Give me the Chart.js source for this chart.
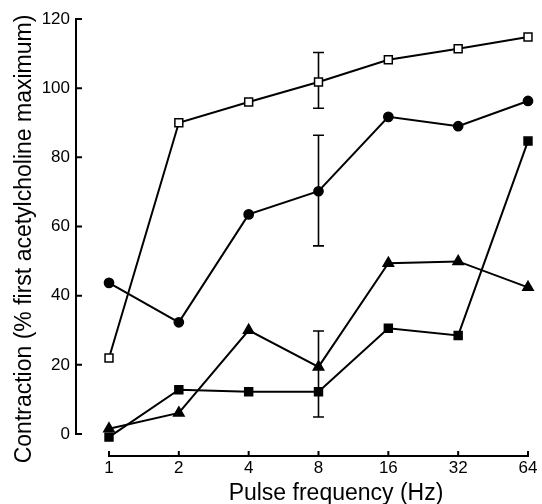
<!DOCTYPE html>
<html>
<head>
<meta charset="utf-8">
<script src="https://cdn.jsdelivr.net/npm/chart.js@4/dist/chart.umd.min.js"></script>
<style>
  html, body { margin: 0; padding: 0; background: #ffffff; }
  #wrap { width: 542px; height: 504px; }
</style>
</head>
<body>
<div id="wrap"><canvas id="c" width="542" height="504"></canvas></div>
<script>
// ---- data ----
const frequencies = ['1', '2', '4', '8', '16', '32', '64'];
const yTickValues = [0, 20, 40, 60, 80, 100, 120];

const openSquareValues   = [22.0, 90.0, 96.0, 101.8, 108.2, 111.4, 114.8];
const circleValues       = [43.7, 32.3, 63.5, 70.2, 91.7, 89.0, 96.3];
const triangleValues     = [1.5, 6.1, 30.0, 19.4, 49.4, 49.9, 42.4];
const filledSquareValues = [-0.9, 12.8, 12.2, 12.2, 30.6, 28.5, 84.7];

// error bars (only at 8 Hz)
const openSquareErrLow   = [null, null, null, 94.2, null, null, null];
const openSquareErrHigh  = [null, null, null, 110.3, null, null, null];
const circleErrLow       = [null, null, null, 54.4, null, null, null];
const circleErrHigh      = [null, null, null, 86.4, null, null, null];
const triangleErrLow     = [null, null, null, 19.4, null, null, null];
const triangleErrHigh    = [null, null, null, 29.8, null, null, null];
const filledSquareErrLow = [null, null, null, 4.9, null, null, null];
const filledSquareErrHigh= [null, null, null, 19.4, null, null, null];

const xTitle = 'Pulse frequency (Hz)';
const yTitle = 'Contraction (% first acetylcholine maximum)';

const FONT = '"Liberation Sans", Arial, Helvetica, sans-serif';

const errorSets = [
  { low: openSquareErrLow, high: openSquareErrHigh, capLow: true, capHigh: true },
  { low: circleErrLow, high: circleErrHigh, capLow: true, capHigh: true },
  { low: triangleErrLow, high: triangleErrHigh, capLow: false, capHigh: true },
  { low: filledSquareErrLow, high: filledSquareErrHigh, capLow: true, capHigh: false }
];

function zeroPadding(scale) {
  scale.paddingLeft = 0; scale.paddingRight = 0;
  scale.paddingTop = 0; scale.paddingBottom = 0;
}

const customPlugin = {
  id: 'custom',
  beforeDatasetsDraw(chart) {
    const ctx = chart.ctx;
    const xs = chart.scales.x, ys = chart.scales.y;
    ctx.save();
    ctx.strokeStyle = '#000';
    ctx.lineWidth = 1.6;
    errorSets.forEach(e => {
      for (let i = 0; i < frequencies.length; i++) {
        if (e.low[i] == null) continue;
        const x = xs.getPixelForValue(i);
        const yl = ys.getPixelForValue(e.low[i]);
        const yh = ys.getPixelForValue(e.high[i]);
        ctx.beginPath();
        ctx.moveTo(x, yl); ctx.lineTo(x, yh);
        if (e.capLow) { ctx.moveTo(x - 5.5, yl); ctx.lineTo(x + 5.5, yl); }
        if (e.capHigh) { ctx.moveTo(x - 5.5, yh); ctx.lineTo(x + 5.5, yh); }
        ctx.stroke();
      }
    });
    ctx.restore();
  },
  afterDraw(chart) {
    const ctx = chart.ctx;
    const xs = chart.scales.x, ys = chart.scales.y;
    const area = chart.chartArea;
    ctx.save();
    ctx.strokeStyle = '#000';
    ctx.lineWidth = 2;
    // y axis
    const ax = area.left - 33;
    const yTop = ys.getPixelForValue(yTickValues[yTickValues.length - 1]);
    const yBot = ys.getPixelForValue(yTickValues[0]);
    ctx.beginPath();
    ctx.moveTo(ax, yTop - 1); ctx.lineTo(ax, yBot + 1);
    yTickValues.forEach(v => {
      const y = ys.getPixelForValue(v);
      ctx.moveTo(ax, y); ctx.lineTo(ax + 6, y);
    });
    ctx.stroke();
    // x axis
    const ay = area.bottom + 22;
    const xL = xs.getPixelForValue(0);
    const xR = xs.getPixelForValue(frequencies.length - 1);
    ctx.beginPath();
    ctx.moveTo(xL - 1, ay); ctx.lineTo(xR + 1, ay);
    for (let i = 0; i < frequencies.length; i++) {
      const x = xs.getPixelForValue(i);
      ctx.moveTo(x, ay); ctx.lineTo(x, ay - 5);
    }
    ctx.stroke();
    // titles
    ctx.fillStyle = '#000';
    ctx.font = '23px ' + FONT;
    ctx.textAlign = 'center';
    ctx.textBaseline = 'alphabetic';
    ctx.fillText(xTitle, 336, 500);
    ctx.translate(31, 239);
    ctx.rotate(-Math.PI / 2);
    ctx.fillText(yTitle, 0, 0);
    ctx.restore();
  }
};

const baseDs = {
  borderColor: '#000',
  borderWidth: 2,
  pointBorderColor: '#000',
  pointBorderWidth: 1.5,
  tension: 0,
  clip: false
};

new Chart(document.getElementById('c'), {
  type: 'line',
  data: {
    labels: frequencies,
    datasets: [
      Object.assign({}, baseDs, { label: 'open squares', data: openSquareValues, pointStyle: 'rect', pointRadius: 5.6, pointBackgroundColor: '#fff', order: 4 }),
      Object.assign({}, baseDs, { label: 'filled circles', data: circleValues, pointStyle: 'circle', pointRadius: 4.6, pointBackgroundColor: '#000', order: 3 }),
      Object.assign({}, baseDs, { label: 'filled triangles', data: triangleValues, pointStyle: 'triangle', pointRadius: 6, pointBackgroundColor: '#000', order: 2 }),
      Object.assign({}, baseDs, { label: 'filled squares', data: filledSquareValues, pointStyle: 'rect', pointRadius: 5.6, pointBackgroundColor: '#000', order: 1 })
    ]
  },
  options: {
    responsive: false,
    animation: false,
    devicePixelRatio: 1,
    layout: { padding: { top: 19, right: 14, left: 0, bottom: 0 } },
    plugins: { legend: { display: false }, tooltip: { enabled: false } },
    elements: { point: { hoverRadius: 5 } },
    scales: {
      x: {
        type: 'category',
        offset: false,
        grid: { display: false, drawTicks: false },
        border: { display: false },
        ticks: { color: '#000', font: { size: 17, family: FONT }, padding: 24, maxRotation: 0, autoSkip: false },
        afterFit(scale) { scale.height = 70; zeroPadding(scale); }
      },
      y: {
        min: 0, max: 120,
        grid: { display: false, drawTicks: false },
        border: { display: false },
        afterBuildTicks(scale) { scale.ticks = yTickValues.map(v => ({ value: v })); },
        ticks: { color: '#000', font: { size: 17, family: FONT }, padding: 39 },
        afterFit(scale) { scale.width = 109; zeroPadding(scale); }
      }
    }
  },
  plugins: [customPlugin]
});
</script>
</body>
</html>
